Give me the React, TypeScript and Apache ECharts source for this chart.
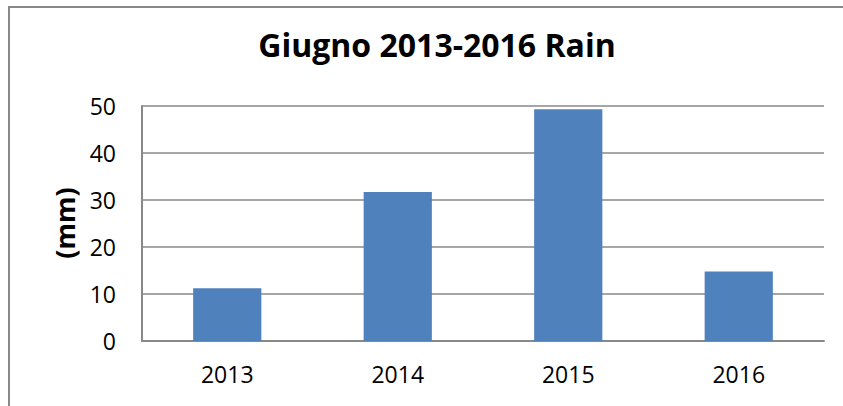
import React, { useEffect, useRef } from "react";
import * as echarts from "echarts";

const categories = ["2013", "2014", "2015", "2016"];
const rainValues = [11.2, 31.7, 49.3, 14.8];
const titleText = "Giugno 2013-2016 Rain";
const yAxisTitle = "(mm)";

export default function App() {
  const ref = useRef<HTMLDivElement>(null);
  useEffect(() => {
    document.body.style.margin = "0";
    const chart = echarts.init(ref.current!, null, { renderer: "svg" });
    chart.setOption({
      animation: false,
      backgroundColor: "#ffffff",
      title: {
        text: titleText,
        left: 432,
        top: 23,
        textAlign: "center",
        textStyle: { fontFamily: "Open Sans", fontWeight: "bold", fontSize: 32, color: "#000" },
      },
      graphic: [
        {
          type: "rect",
          shape: { x: 9, y: 7, width: 900, height: 500 },
          style: { fill: "none", stroke: "#888888", lineWidth: 2 },
          silent: true,
        },
        {
          type: "text",
          x: 64,
          y: 223,
          rotation: Math.PI / 2,
          style: {
            text: yAxisTitle,
            fontFamily: "Open Sans",
            fontWeight: "bold",
            fontSize: 27,
            fill: "#000",
            textAlign: "center",
            textVerticalAlign: "middle",
          },
        },
      ],
      grid: { left: 142, right: 19, top: 106, bottom: 65, containLabel: false },
      xAxis: {
        type: "category",
        data: categories,
        axisLine: { lineStyle: { color: "#888888", width: 2 } },
        axisTick: { show: false },
        axisLabel: { fontFamily: "Open Sans", fontSize: 23, color: "#000", margin: 21 },
      },
      yAxis: {
        type: "value",
        min: 0,
        max: 50,
        interval: 10,
        axisLine: { show: true, lineStyle: { color: "#888888", width: 2 } },
        axisTick: { show: false },
        splitLine: { lineStyle: { color: "#888888", width: 1.5 } },
        axisLabel: { fontFamily: "Open Sans", fontSize: 23, color: "#000", margin: 26 },
      },
      series: [
        {
          type: "bar",
          data: rainValues,
          barWidth: "40%",
          itemStyle: { color: "#4F81BD" },
        },
      ],
    });
    return () => chart.dispose();
  }, []);
  return <div ref={ref} style={{ width: 843, height: 406 }} />;
}
